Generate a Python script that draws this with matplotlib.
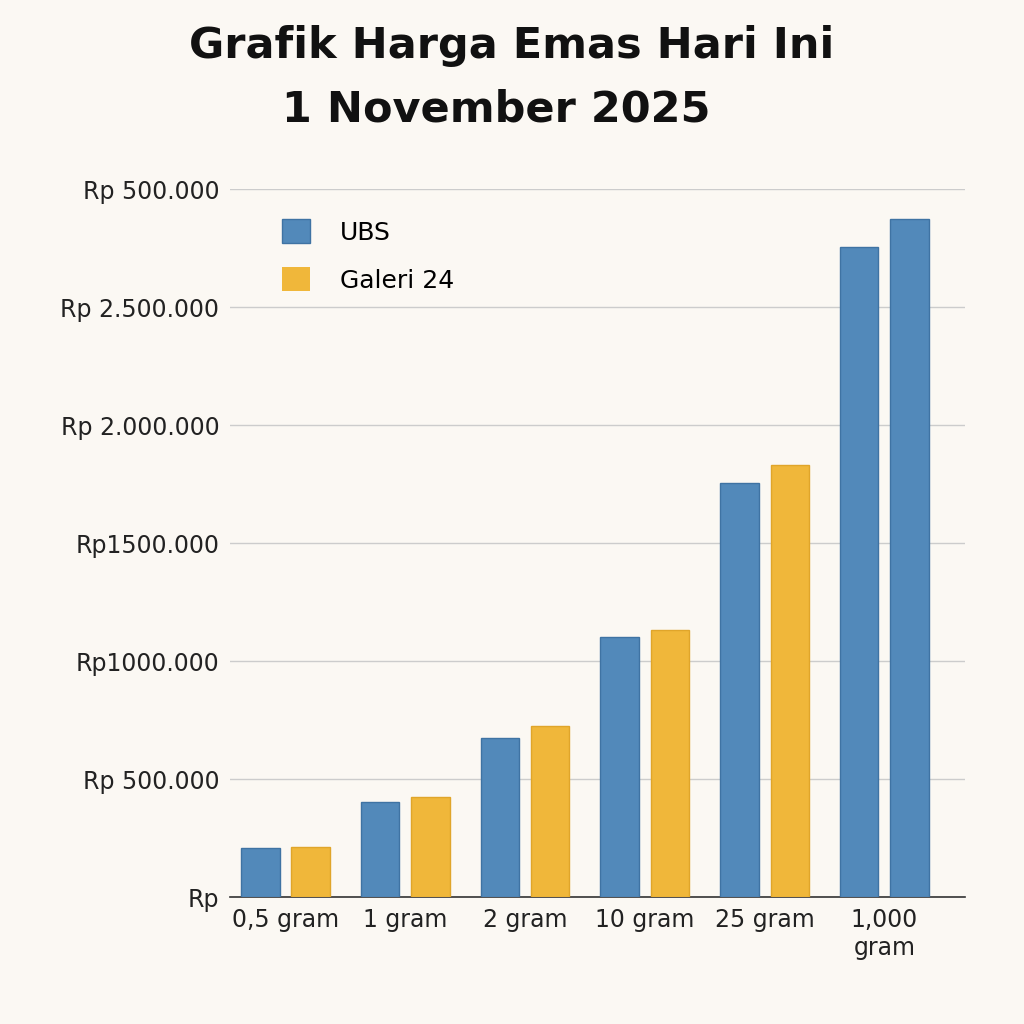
import matplotlib
matplotlib.use("Agg")
import matplotlib.pyplot as plt
import numpy as np

categories = ["0,5 gram", "1 gram", "2 gram", "10 gram", "25 gram", "1,000\ngram"]
ubs = [207000, 403000, 674000, 1102000, 1754000, 2754000]
galeri = [212000, 424000, 725000, 1131000, 1831000, 2873000]
galeri_colors = ["#F0B73A"] * 5 + ["#5289BA"]
tick_vals = [0, 500000, 1000000, 1500000, 2000000, 2500000, 3000000]
tick_labels = ["Rp", "Rp 500.000", "Rp1000.000", "Rp1500.000", "Rp 2.000.000", "Rp 2.500.000", "Rp 500.000"]

bg = "#FBF8F3"
fig = plt.figure(figsize=(10.24, 10.24), dpi=100, facecolor=bg)
ax = fig.add_axes([0.225, 0.124, 0.717, 0.691], facecolor=bg)
x = np.arange(len(categories))
w = 0.32
ax.bar(x - 0.21, ubs, w, color="#5289BA", edgecolor="#3F73A3", linewidth=1, label="UBS", zorder=3)
ax.bar(x + 0.21, galeri, w, color=galeri_colors, edgecolor=["#E0A52A"] * 5 + ["#3F73A3"], linewidth=1, zorder=3)
ax.bar([0], [0], 0, color="#F0B73A", label="Galeri 24")
ax.set_xlim(-0.46, 5.67)
ax.set_ylim(0, 3000000)
ax.set_yticks(tick_vals)
ax.set_yticklabels(tick_labels, fontsize=17, color="#222222")
ax.set_xticks(x)
ax.set_xticklabels(categories, fontsize=17, color="#222222", va="top")
ax.tick_params(length=0, pad=8)
ax.grid(axis="y", color="#CCCCCC", linewidth=1, zorder=0)
for s in ["top", "right", "left"]:
    ax.spines[s].set_visible(False)
ax.spines["bottom"].set_color("#333333")
ax.spines["bottom"].set_linewidth(1.2)
leg = ax.legend(loc="upper left", bbox_to_anchor=(0.04, 0.99), frameon=False, fontsize=18,
                handlelength=1.1, handleheight=1.1, labelspacing=0.9, handletextpad=1.2)
fig.text(0.5, 0.955, "Grafik Harga Emas Hari Ini", ha="center", va="center",
         fontsize=31, fontweight="bold", color="#111111")
fig.text(0.485, 0.893, "1 November 2025", ha="center", va="center",
         fontsize=31, fontweight="bold", color="#111111")
fig.savefig("out.png", dpi=100, facecolor=bg)
